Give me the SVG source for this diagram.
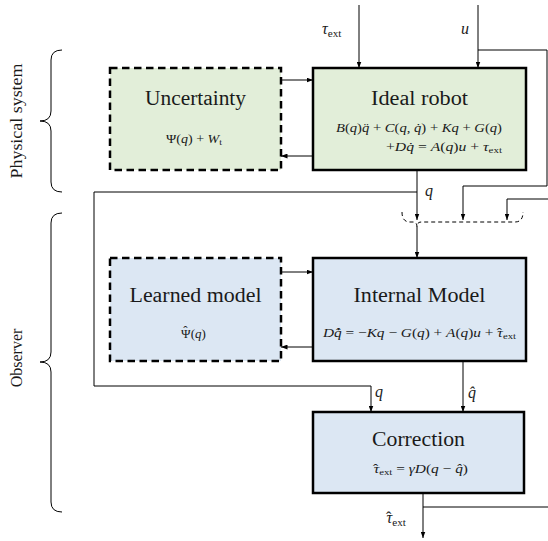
<svg xmlns="http://www.w3.org/2000/svg" width="548" height="541" viewBox="0 0 548 541">
  <defs>
    <marker id="ah" viewBox="0 0 8 6" refX="8" refY="3" markerWidth="6.5" markerHeight="5" orient="auto" markerUnits="userSpaceOnUse">
      <path d="M0,0 L8,3 L0,6 z" fill="#000"/>
    </marker>
    <style>
      text { font-family: "Liberation Serif", "Times New Roman", serif; fill: #1a1a1a; }
      .title { font-size: 20px; text-anchor: middle; }
      .eq { font-size: 13px; font-style: italic; }
      .lbl { font-size: 16px; font-style: italic; }
      .side { font-size: 16px; text-anchor: middle; }
      .rm { font-style: normal; }
      .sub { font-style: normal; font-size: 70%; }
      .solid { stroke: #000; stroke-width: 2.5; }
      .dash { stroke: #000; stroke-width: 2.5; stroke-dasharray: 7.5 4.5; }
      .green { fill: #e2eed9; }
      .blue { fill: #dce7f3; }
      .wire { fill: none; stroke: #000; stroke-width: 1; }
      .arrow { marker-end: url(#ah); }
      .brace { fill: none; stroke: #000; stroke-width: 1; }
    </style>
  </defs>

  <!-- group braces on the left -->
  <g id="braces">
    <path class="brace" d="M62,50 Q51,50 51,60 L51,111 Q51,121 40,121 Q51,121 51,131 L51,182 Q51,192 62,192"/>
    <path class="brace" d="M62,213 Q51,213 51,223 L51,352 Q51,362 40,362 Q51,362 51,372 L51,502 Q51,512 62,512"/>
    <text class="side" transform="translate(22,121) rotate(-90)" textLength="115" lengthAdjust="spacingAndGlyphs">Physical system</text>
    <text class="side" transform="translate(22,358) rotate(-90)">Observer</text>
  </g>

  <!-- connectors -->
  <g id="connectors">
    <!-- external inputs -->
    <path class="wire arrow" d="M359,5 L359,68"/>
    <path class="wire arrow" d="M478,5 L478,68"/>
    <!-- input u fed to the observer -->
    <path class="wire arrow" d="M478,50 L547,50 L547,186 L463,186 L463,220"/>
    <!-- measured q -->
    <path class="wire arrow" d="M417,170 L417,220"/>
    <path class="wire arrow" d="M417,192 L94,192 L94,386 L371,386 L371,412"/>
    <!-- estimated torque fed back -->
    <path class="wire arrow" d="M552,507 L552,199 L507,199 L507,220"/>
    <!-- dashed merge into the internal model -->
    <path class="wire" stroke-dasharray="4 3" d="M402,212 Q402,222 410,222 L413,222 Q417,222 417,227 Q417,222 421,222 L515,222 Q523,222 523,212"/>
    <path class="wire arrow" d="M417,227 L417,258"/>
    <!-- uncertainty loop -->
    <path class="wire arrow" d="M281,80 L313,80"/>
    <path class="wire arrow" d="M313,156 L281,156"/>
    <!-- learned model loop -->
    <path class="wire arrow" d="M281,272 L313,272"/>
    <path class="wire arrow" d="M313,347 L281,347"/>
    <!-- estimate q-hat to correction -->
    <path class="wire arrow" d="M463,361 L463,412"/>
    <!-- correction output -->
    <path class="wire arrow" d="M423,493 L423,538"/>
    <path class="wire" d="M423,507 L552,507"/>
  </g>

  <!-- connector labels -->
  <g id="labels">
    <text class="lbl" x="322" y="34">τ<tspan class="sub" dy="3">ext</tspan></text>
    <text class="lbl" x="461" y="34">u</text>
    <text class="lbl" x="425" y="196">q</text>
    <text class="lbl" x="375" y="397">q</text>
    <text class="lbl" x="468" y="398">q̂</text>
    <text class="lbl" x="386" y="523">τ<tspan class="rm" dx="-6.2" dy="-0.5">ˆ</tspan><tspan class="sub" dx="0.9" dy="3.5">ext</tspan></text>
  </g>

  <g id="uncertainty">
    <rect class="green dash" x="110" y="68" width="171" height="102"/>
    <text class="title" x="195.5" y="105" textLength="101" lengthAdjust="spacingAndGlyphs">Uncertainty</text>
    <text class="eq" x="166" y="143" textLength="56" lengthAdjust="spacingAndGlyphs"><tspan class="rm">Ψ(</tspan>q<tspan class="rm">) + </tspan>W<tspan class="sub" dy="2" font-style="italic">t</tspan></text>
  </g>

  <g id="ideal-robot">
    <rect class="green solid" x="313" y="68" width="213" height="102"/>
    <text class="title" x="419.5" y="105" textLength="97" lengthAdjust="spacingAndGlyphs">Ideal robot</text>
    <text class="eq" x="336" y="132" textLength="166" lengthAdjust="spacingAndGlyphs">B<tspan class="rm">(</tspan>q<tspan class="rm">)</tspan>q̈<tspan class="rm"> + </tspan>C<tspan class="rm">(</tspan>q<tspan class="rm">, </tspan>q̇<tspan class="rm">) + </tspan>Kq<tspan class="rm"> + </tspan>G<tspan class="rm">(</tspan>q<tspan class="rm">)</tspan></text>
    <text class="eq" x="386" y="151" textLength="116" lengthAdjust="spacingAndGlyphs"><tspan class="rm">+</tspan>Dq̇<tspan class="rm"> = </tspan>A<tspan class="rm">(</tspan>q<tspan class="rm">)</tspan>u<tspan class="rm"> + </tspan>τ<tspan class="sub" dy="2">ext</tspan></text>
  </g>

  <g id="learned-model">
    <rect class="blue dash" x="110" y="258" width="171" height="103"/>
    <text class="title" x="195.5" y="302" textLength="132" lengthAdjust="spacingAndGlyphs">Learned model</text>
    <text class="eq" x="181" y="338"><tspan class="rm">Ψ</tspan><tspan class="rm" dx="-7.4" dy="-3.5">ˆ</tspan><tspan class="rm" dx="3.1" dy="3.5">(</tspan>q<tspan class="rm">)</tspan></text>
  </g>

  <g id="internal-model">
    <rect class="blue solid" x="313" y="258" width="213" height="103"/>
    <text class="title" x="419.5" y="302" textLength="132" lengthAdjust="spacingAndGlyphs">Internal Model</text>
    <text class="eq" x="323" y="337" textLength="193" lengthAdjust="spacingAndGlyphs">Dq̂̇<tspan class="rm"> = −</tspan>Kq<tspan class="rm"> − </tspan>G<tspan class="rm">(</tspan>q<tspan class="rm">) + </tspan>A<tspan class="rm">(</tspan>q<tspan class="rm">)</tspan>u<tspan class="rm"> + </tspan>τ<tspan class="rm" dx="-5.2" dy="-0.5">ˆ</tspan><tspan class="sub" dx="0.9" dy="2.5">ext</tspan></text>
  </g>

  <g id="correction">
    <rect class="blue solid" x="313" y="412" width="211" height="81"/>
    <text class="title" x="418.5" y="446" textLength="93" lengthAdjust="spacingAndGlyphs">Correction</text>
    <text class="eq" x="373" y="473" textLength="95" lengthAdjust="spacingAndGlyphs">τ<tspan class="rm" dx="-5.2" dy="-0.5">ˆ</tspan><tspan class="sub" dx="0.9" dy="2.5">ext</tspan><tspan class="rm" dy="-2"> = </tspan>γD<tspan class="rm">(</tspan>q<tspan class="rm"> − </tspan>q̂<tspan class="rm">)</tspan></text>
  </g>
</svg>
